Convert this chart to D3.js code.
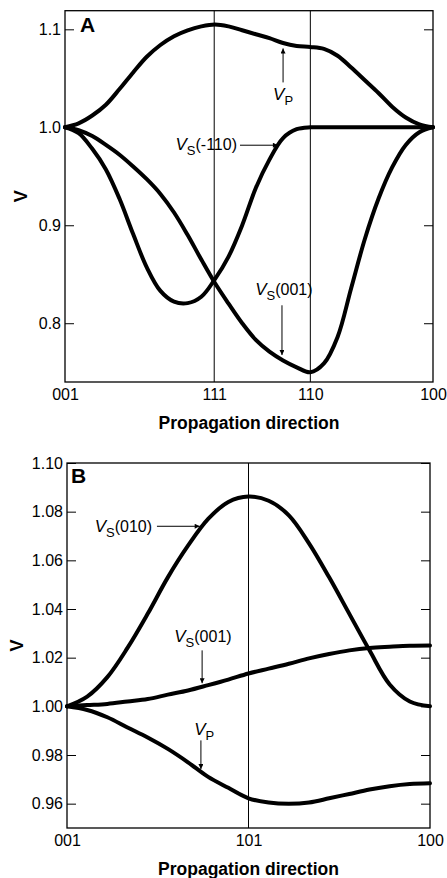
<!DOCTYPE html>
<html>
<head>
<meta charset="utf-8">
<script src="https://cdn.jsdelivr.net/npm/d3@7"></script>
<style>
body { margin: 0; background: #fff; }
svg text { font-family: "Liberation Sans", Arial, Helvetica, sans-serif; fill: #000; }
</style>
</head>
<body>
<div id="chart"></div>
<script>
// Panel A: angle (deg) along 001 -> 111 -> 110 -> 100
const dirNamesA = ["001", "111", "110", "100"];
const dirAnglesA = [0, 54.74, 90, 135];
const refAnglesA = [54.74, 90];
const vTicksA = [0.8, 0.9, 1.0, 1.1];

const angleA = [0, 5, 10, 15, 20, 25, 30, 35, 40, 45, 50, 55, 60, 65, 70, 75, 80, 85, 90, 95, 100, 105, 110, 115, 120, 125, 130, 135];
const vpA    = [1.0, 1.004, 1.012, 1.023, 1.039, 1.056, 1.072, 1.084, 1.093, 1.099, 1.103, 1.105, 1.103, 1.099, 1.095, 1.091, 1.086, 1.083, 1.082, 1.080, 1.073, 1.061, 1.048, 1.035, 1.021, 1.010, 1.003, 1.0];
const vs110A = [1.0, 0.994, 0.978, 0.957, 0.927, 0.891, 0.857, 0.833, 0.822, 0.8205, 0.827, 0.845, 0.868, 0.900, 0.938, 0.967, 0.989, 0.998, 1.0, 1.0, 1.0, 1.0, 1.0, 1.0, 1.0, 1.0, 1.0, 1.0];
const vs001A = [1.0, 0.997, 0.991, 0.982, 0.972, 0.960, 0.947, 0.932, 0.913, 0.890, 0.865, 0.841, 0.820, 0.800, 0.783, 0.771, 0.762, 0.755, 0.750, 0.759, 0.786, 0.836, 0.886, 0.927, 0.959, 0.982, 0.995, 1.0];

// Panel B: angle (deg) along 001 -> 101 -> 100
const dirNamesB = ["001", "101", "100"];
const dirAnglesB = [0, 45, 90];
const refAnglesB = [45];
const vTicksB = [0.96, 0.98, 1.00, 1.02, 1.04, 1.06, 1.08, 1.10];

const angleB = [0, 5, 10, 15, 20, 25, 30, 35, 40, 45, 50, 55, 60, 65, 70, 75, 80, 85, 90];
const vs010B = [1.0, 1.004, 1.012, 1.024, 1.038, 1.053, 1.066, 1.077, 1.084, 1.0862, 1.0845, 1.0785, 1.067, 1.053, 1.038, 1.023, 1.009, 1.002, 1.0];
const vs001B = [1.0, 1.0005, 1.001, 1.002, 1.003, 1.0048, 1.0065, 1.0087, 1.011, 1.0135, 1.0155, 1.0175, 1.0197, 1.0215, 1.023, 1.024, 1.0245, 1.0249, 1.025];
const vpB    = [1.0, 0.9985, 0.9955, 0.9913, 0.9872, 0.9825, 0.977, 0.971, 0.9665, 0.9622, 0.9605, 0.960, 0.9605, 0.9622, 0.964, 0.9658, 0.9672, 0.9681, 0.9684];

const W = 447, H = 878;

let svg = d3.select("#chart").append("svg")
    .attr("width", W)
    .attr("height", H);

svg.append("defs").append("marker")
    .attr("id", "arrow")
    .attr("viewBox", "0 0 10 10")
    .attr("refX", 10).attr("refY", 5)
    .attr("markerWidth", 7).attr("markerHeight", 5)
    .attr("markerUnits", "userSpaceOnUse")
    .attr("orient", "auto")
    .append("path")
    .attr("d", "M0,0L10,5L0,10Z")
    .attr("fill", "#000");

const panelA = {
    x0: 65, x1: 433, y0: 10.7, y1: 382,
    xDomain: [0, 135], yDomain: [0.74, 1.119],
    names: dirNamesA, angles: dirAnglesA, refs: refAnglesA,
    vTicks: vTicksA, fmt: ".1f", letter: "A", letterX: 80, letterY: 32, vTitleX: 27,
    x: angleA, series: [vpA, vs110A, vs001A],
    labels: [
        {sub: "P", rest: "", at: [80, 1.0278], anchor: "middle"},
        {sub: "S", rest: "(-110)", at: [63.1, 0.9766], anchor: "end"},
        {sub: "S", rest: "(001)", at: [80.3, 0.8285], anchor: "middle"}
    ],
    arrows: [
        [[80, 1.0458], [80, 1.0805]],
        [[64.2, 0.9817], [78.1, 0.9817]],
        [[79.6, 0.8183], [79.6, 0.7675]]
    ]
};

const panelB = {
    x0: 67, x1: 430, y0: 463, y1: 828,
    xDomain: [0, 90], yDomain: [0.95, 1.10],
    names: dirNamesB, angles: dirAnglesB, refs: refAnglesB,
    vTicks: vTicksB, fmt: ".2f", letter: "B", letterX: 71, letterY: 483, vTitleX: 23,
    x: angleB, series: [vs010B, vs001B, vpB],
    labels: [
        {sub: "S", rest: "(010)", at: [21.1, 1.0715], anchor: "end"},
        {sub: "S", rest: "(001)", at: [33.7, 1.0263], anchor: "middle"},
        {sub: "P", rest: "", at: [34.0, 0.9881], anchor: "middle"}
    ],
    arrows: [
        [[22.3, 1.0740], [32.9, 1.0740]],
        [[33.5, 1.0230], [33.5, 1.0095]],
        [[33.2, 0.9860], [33.2, 0.9742]]
    ]
};

function drawPanel(p) {
    let g = svg.append("g");

    let x = d3.scaleLinear().domain(p.xDomain).range([p.x0, p.x1]);
    let y = d3.scaleLinear().domain(p.yDomain).range([p.y1, p.y0]);

    // vertical lines at the symmetry directions
    g.selectAll("line.ref").data(p.refs).enter()
        .append("line")
        .attr("x1", d => x(d)).attr("x2", d => x(d))
        .attr("y1", p.y0).attr("y2", p.y1)
        .attr("stroke", "#000").attr("stroke-width", 1);

    // frame
    g.append("rect")
        .attr("x", p.x0).attr("y", p.y0)
        .attr("width", p.x1 - p.x0).attr("height", p.y1 - p.y0)
        .attr("fill", "none").attr("stroke", "#000").attr("stroke-width", 1.3);

    // left axis, inward ticks
    g.append("g")
        .attr("transform", "translate(" + p.x0 + ",0)")
        .call(d3.axisLeft(y).tickValues(p.vTicks).tickFormat(d3.format(p.fmt)).tickSize(-9).tickPadding(4))
        .attr("font-size", 16)
        .call(a => a.select(".domain").remove());

    // right axis, ticks only
    g.append("g")
        .attr("transform", "translate(" + p.x1 + ",0)")
        .call(d3.axisRight(y).tickValues(p.vTicks).tickFormat("").tickSize(-9))
        .call(a => a.select(".domain").remove());

    // direction labels
    g.append("g")
        .attr("transform", "translate(0," + p.y1 + ")")
        .call(d3.axisBottom(x).tickValues(p.angles).tickFormat((d, i) => p.names[i]).tickSize(0).tickPadding(7))
        .attr("font-size", 16)
        .call(a => a.select(".domain").remove());

    // curves
    let line = d3.line()
        .x(d => x(d[0]))
        .y(d => y(d[1]))
        .curve(d3.curveCatmullRom.alpha(0.5));

    g.selectAll("path.curve").data(p.series).enter()
        .append("path")
        .attr("class", "curve")
        .attr("d", d => line(d3.zip(p.x, d)))
        .attr("fill", "none")
        .attr("stroke", "#000")
        .attr("stroke-width", 4)
        .attr("stroke-linecap", "round")
        .attr("stroke-linejoin", "round");

    // arrows
    g.selectAll("line.arrow").data(p.arrows).enter()
        .append("line")
        .attr("x1", d => x(d[0][0])).attr("y1", d => y(d[0][1]))
        .attr("x2", d => x(d[1][0])).attr("y2", d => y(d[1][1]))
        .attr("stroke", "#000").attr("stroke-width", 1)
        .attr("marker-end", "url(#arrow)");

    // curve labels
    p.labels.forEach(function(l) {
        let t = g.append("text")
            .attr("x", x(l.at[0])).attr("y", y(l.at[1]))
            .attr("text-anchor", l.anchor)
            .style("font-size", "17px");
        t.append("tspan").style("font-style", "italic").text("V");
        t.append("tspan").attr("dy", 5).style("font-size", "13px").text(l.sub);
        if (l.rest) t.append("tspan").attr("dy", -5).style("font-size", "16px").text(l.rest);
    });

    // panel letter
    g.append("text")
        .attr("x", p.letterX).attr("y", p.letterY)
        .style("font-size", "21px").style("font-weight", "bold")
        .text(p.letter);

    // axis titles
    g.append("text")
        .attr("x", (p.x0 + p.x1) / 2).attr("y", p.y1 + 47)
        .attr("text-anchor", "middle")
        .style("font-size", "17.5px").style("font-weight", "bold")
        .text("Propagation direction");

    g.append("text")
        .attr("transform", "translate(" + p.vTitleX + "," + (p.y0 + p.y1) / 2 + ") rotate(-90)")
        .attr("text-anchor", "middle")
        .style("font-size", "18px").style("font-weight", "bold")
        .text("V");
}

drawPanel(panelA);
drawPanel(panelB);
</script>
</body>
</html>
